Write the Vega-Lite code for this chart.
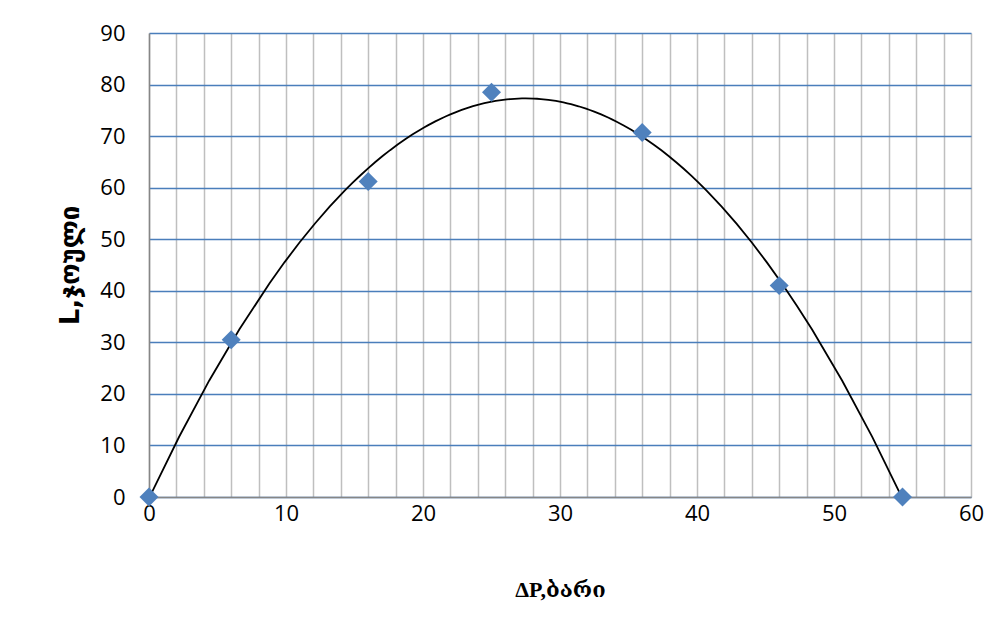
{
  "$schema": "https://vega.github.io/schema/vega-lite/v6.json",
  "autosize": {"type": "none"},
  "padding": {"left": 149, "top": 33, "right": 32, "bottom": 144},
  "width": 822,
  "height": 464,
  "background": "white",
  "config": {"view": {"stroke": null}},
  "data": {"values": [
    {"x": 0, "y": 0},
    {"x": 6, "y": 30.5},
    {"x": 16, "y": 61.2},
    {"x": 25, "y": 78.5},
    {"x": 36, "y": 70.7},
    {"x": 46, "y": 41},
    {"x": 55, "y": 0}
  ]},
  "encoding": {
    "x": {
      "field": "x", "type": "quantitative",
      "scale": {"domain": [0, 60], "nice": false, "zero": true},
      "axis": {
        "tickCount": 30,
        "labelExpr": "datum.value % 10 === 0 ? datum.label : ''",
        "grid": true, "gridColor": "#bfbfbf", "gridWidth": 1.5, "gridOpacity": 1,
        "domainColor": "#868686", "domainWidth": 1.5,
        "ticks": false,
        "labelFont": "Open Sans", "labelFontSize": 22, "labelColor": "black", "labelPadding": 6,
        "labelFlush": false, "labelOverlap": false, "labelBound": false,
        "title": "ΔP,ბარი",
        "titleFont": "Liberation Serif, DejaVu Serif", "titleFontSize": 22, "titleFontWeight": "bold", "titleColor": "black",
        "titlePadding": 55
      }
    },
    "y": {
      "field": "y", "type": "quantitative",
      "scale": {"domain": [0, 90], "nice": false},
      "axis": {
        "values": [0,10,20,30,40,50,60,70,80,90],
        "grid": true, "gridColor": "#4a7ebb", "gridWidth": 1.5, "gridOpacity": 1,
        "domainColor": "#868686", "domainWidth": 1.5,
        "ticks": false,
        "labelFont": "Open Sans", "labelFontSize": 22, "labelColor": "black", "labelPadding": 24,
        "labelFlush": false, "labelOverlap": false,
        "title": "L,ჯოული",
        "titleFont": "DejaVu Sans", "titleFontSize": 26, "titleFontWeight": "bold", "titleColor": "black",
        "titlePadding": 16
      }
    }
  },
  "layer": [
    {
      "transform": [{"regression": "y", "on": "x", "method": "poly", "order": 2, "extent": [0, 55]}],
      "mark": {"type": "line", "color": "black", "strokeWidth": 1.8, "clip": true}
    },
    {
      "mark": {"type": "point", "shape": "diamond", "filled": true, "color": "#4f81bd", "opacity": 1, "size": 360}
    }
  ]
}
